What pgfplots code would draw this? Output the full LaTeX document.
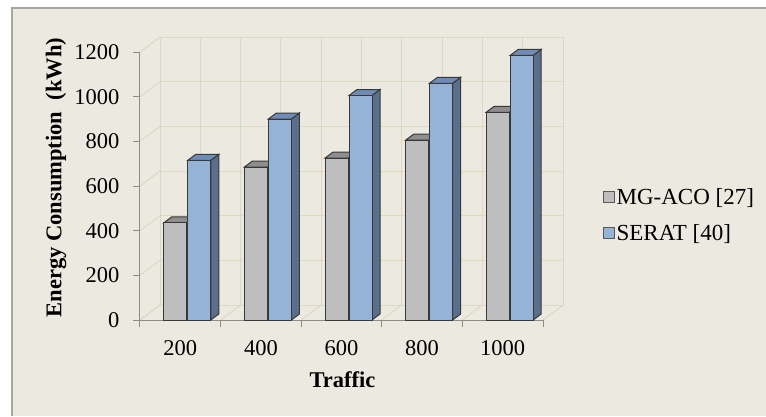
\documentclass[border=0pt]{standalone}
\usepackage{fontspec}
\setmainfont{Liberation Serif}
\usepackage{pgfplots}
\pgfplotsset{compat=1.18}
\definecolor{bgc}{HTML}{ECE9E0}
\definecolor{framec}{HTML}{A6A6A6}
\definecolor{gridc}{HTML}{DCD8C2}
\definecolor{axc}{HTML}{8C8C8C}
\definecolor{edgec}{HTML}{383838}
\definecolor{grayf}{HTML}{BEBEBE}
\definecolor{grayt}{HTML}{8E8E8E}
\definecolor{grays}{HTML}{7A7A7A}
\definecolor{bluef}{HTML}{95B3D7}
\definecolor{bluet}{HTML}{6F8CB8}
\definecolor{blues}{HTML}{5B6E8C}
\pgfplotstableread{
x y
0 435
1 685
2 725
3 805
4 930
}\mgaco
\pgfplotstableread{
x y
0 715
1 900
2 1005
3 1060
4 1185
}\serat
\begin{document}
\begin{tikzpicture}[x=1pt,y=1pt,font=\fontsize{22.5}{27}\selectfont]
\useasboundingbox (0,0) rectangle (766,416);
\fill[white] (0,0) rectangle (766,416);
\fill[bgc] (12,0) rectangle (766,408);
\draw[framec, line width=1.5pt] (12,0) -- (12,408) -- (766,408);
% back wall
\begin{axis}[at={(160pt,111pt)}, anchor=south west, scale only axis,
  width=403pt, height=268pt, xmin=-0.5, xmax=4.5, ymin=0, ymax=1200,
  xtick={-0.5,0,...,4.5}, ytick={0,200,...,1200},
  xticklabels={}, yticklabels={}, grid=major, major tick length=0pt,
  grid style={gridc, line width=1pt}, axis line style={gridc, line width=1pt}]
\end{axis}
\foreach \k in {0,...,6} \draw[gridc, line width=1pt] (140,96+\k*44.6667) -- (160,111+\k*44.6667);
\foreach \j in {0,...,5} \draw[gridc, line width=1pt] (140+\j*80.6,96) -- (160+\j*80.6,111);
% front axis
\begin{axis}[at={(140pt,96pt)}, anchor=south west, scale only axis,
  width=403pt, height=268pt, xmin=-0.5, xmax=4.5, ymin=0, ymax=1200,
  axis lines*=left, tick align=outside, major tick length=7pt,
  axis line style={axc, line width=1pt}, tick style={axc, line width=1pt},
  xtick={-0.5,0.5,...,4.5}, x tick label as interval,
  xticklabels={200,400,600,800,1000},
  ytick={0,200,...,1200},
  /pgf/number format/assume math mode=true,
  /pgf/number format/1000 sep={},
  yticklabel style={xshift=-10pt},
  xticklabel style={yshift=-10pt},
  clip=false, clip marker paths=true,
  xlabel={\textbf{Traffic}},
  ylabel={\textbf{Energy Consumption\ \ (kWh)}},
  xlabel style={at={(axis description cs:0.5025,-0.224)}, anchor=center},
  ylabel style={at={(axis description cs:-0.2084,0.532)}, anchor=center},
  legend style={at={(1.148,0.50)}, anchor=north west, draw=none, fill=none,
    row sep=15pt, inner sep=0pt, nodes={inner sep=2pt, font=\fontsize{23}{27}\selectfont}},
  legend cell align=left]
\addplot[scatter, only marks, forget plot, mark=*, mark size=0pt,
  mark options={draw=none,fill=none},
  scatter/use mapped color={draw=none,fill=none},
  visualization depends on={rawy \as \rawy},
  scatter/@pre marker code/.code={%
    \pgfmathsetmacro\hh{\rawy*0.223333}%
    \filldraw[fill=grays, draw=edgec, line width=1pt] (6.5pt,0pt) -- (14.5pt,6pt) -- (14.5pt,{6pt-\hh pt}) -- (6.5pt,{-\hh pt}) -- cycle;
    \filldraw[fill=grayt, draw=edgec, line width=1pt] (-16.5pt,0pt) -- (-8.5pt,6pt) -- (14.5pt,6pt) -- (6.5pt,0pt) -- cycle;
  },
  scatter/@post marker code/.code={}] table[x=x,y=y] {\mgaco};
\addplot[ybar, bar width=23pt, bar shift=-5pt, fill=grayf, draw=edgec, line width=1pt,
  legend image code/.code={\filldraw[fill=grayf, draw=gray!70!black, line width=0.8pt] (0pt,-5pt) rectangle (11pt,6pt);}]
  table[x=x,y=y] {\mgaco};
\addlegendentry{MG-ACO [27]}
\addplot[scatter, only marks, forget plot, mark=*, mark size=0pt,
  mark options={draw=none,fill=none},
  scatter/use mapped color={draw=none,fill=none},
  visualization depends on={rawy \as \rawy},
  scatter/@pre marker code/.code={%
    \pgfmathsetmacro\hh{\rawy*0.223333}%
    \filldraw[fill=blues, draw=edgec, line width=1pt] (30.5pt,0pt) -- (38.5pt,6pt) -- (38.5pt,{6pt-\hh pt}) -- (30.5pt,{-\hh pt}) -- cycle;
    \filldraw[fill=bluet, draw=edgec, line width=1pt] (7.5pt,0pt) -- (15.5pt,6pt) -- (38.5pt,6pt) -- (30.5pt,0pt) -- cycle;
  },
  scatter/@post marker code/.code={}] table[x=x,y=y] {\serat};
\addplot[ybar, bar width=23pt, bar shift=19pt, fill=bluef, draw=edgec, line width=1pt,
  legend image code/.code={\filldraw[fill=bluef, draw=gray!70!black, line width=0.8pt] (0pt,-5pt) rectangle (11pt,6pt);}]
  table[x=x,y=y] {\serat};
\addlegendentry{SERAT [40]}
\end{axis}
\end{tikzpicture}
\end{document}
